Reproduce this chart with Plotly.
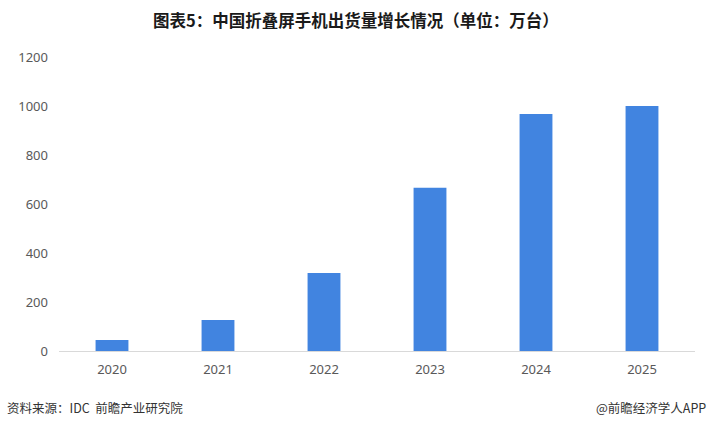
import plotly.graph_objects as go

years = ["2020", "2021", "2022", "2023", "2024", "2025"]
shipments = [45, 127, 318, 666, 967, 1000]
y_ticks = [0, 200, 400, 600, 800, 1000, 1200]

title_text = "图表5：中国折叠屏手机出货量增长情况（单位：万台）"
source_text = "资料来源：IDC  前瞻产业研究院"
brand_text = "@前瞻经济学人APP"

L, R, T, B = 59, 16, 57, 78
W, H = 711, 429
plot_w = W - L - R
plot_h = H - T - B

def px2paper(px, py):
    return (px - L) / plot_w, (H - B - py) / plot_h

fig = go.Figure()
fig.add_trace(go.Bar(
    x=years, y=shipments,
    marker=dict(color="#4184e0", line=dict(width=0)),
    hoverinfo="x+y",
))

tx, ty = px2paper(355.5, 20)
sx, sy = px2paper(5, 408)
bx, by = px2paper(708, 408)

fig.update_layout(
    width=W, height=H,
    margin=dict(l=L, r=R, t=T, b=B),
    paper_bgcolor="white", plot_bgcolor="white",
    bargap=0.69,
    showlegend=False,
    font=dict(family="Noto Sans CJK SC, Noto Sans, sans-serif", color="#595959", size=12),
    xaxis=dict(
        type="category",
        showgrid=False,
        showline=True, linecolor="#d9d9d9", linewidth=1,
        ticks="", tickfont=dict(size=13, color="#595959", family="Noto Sans, Open Sans, sans-serif"),
        ticklabelstandoff=6,
        zeroline=False,
    ),
    yaxis=dict(
        range=[0, 1200],
        tickvals=y_ticks,
        showgrid=False, zeroline=False, showline=False,
        ticks="", tickfont=dict(size=13, color="#595959", family="Noto Sans, Open Sans, sans-serif"),
        ticklabelstandoff=10,
    ),
    annotations=[
        dict(text="<b>" + title_text + "</b>", x=tx, xref="paper", y=ty, yref="paper",
             showarrow=False, font=dict(size=16.5, color="#1a1a1a", family="Noto Sans CJK SC"),
             xanchor="center", yanchor="middle"),
        dict(text=source_text, x=sx, y=sy, xref="paper", yref="paper", showarrow=False,
             font=dict(size=12.5, color="#333333", family="Noto Sans CJK SC"),
             xanchor="left", yanchor="middle"),
        dict(text=brand_text, x=bx, y=by, xref="paper", yref="paper", showarrow=False,
             font=dict(size=12.5, color="#333333", family="Noto Sans CJK SC"),
             xanchor="right", yanchor="middle"),
    ],
)

fig.write_html("out.html")
